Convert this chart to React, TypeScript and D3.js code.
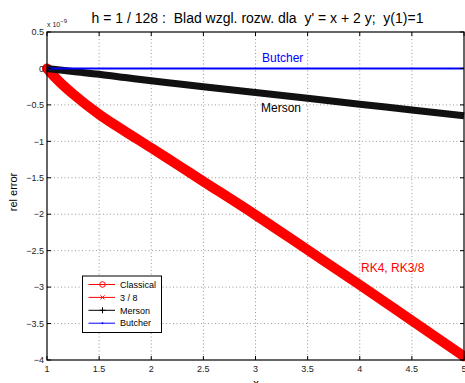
import React from "react";
import * as d3 from "d3";

const xs = [1, 1.0625, 1.125, 1.25, 1.5, 1.75, 2, 2.25, 2.5, 3, 3.5, 4, 4.5, 5];
const rk4 = [0, -0.1, -0.19, -0.35, -0.63, -0.865, -1.09, -1.32, -1.55, -2.01, -2.49, -2.97, -3.46, -3.95];
const merson = [0, -0.012, -0.022, -0.042, -0.08, -0.125, -0.17, -0.21, -0.25, -0.33, -0.41, -0.49, -0.57, -0.65];
const butcher = [0, 0, 0, 0, 0, 0, 0, 0, 0, 0, 0, 0, 0, 0];
const xTicks = [1, 1.5, 2, 2.5, 3, 3.5, 4, 4.5, 5];
const yTicks = [0.5, 0, -0.5, -1, -1.5, -2, -2.5, -3, -3.5, -4];
const legendNames = ["Classical", "3 / 8", "Merson", "Butcher"];
const legendColors = ["#ff0000", "#ff0000", "#000000", "#0000ff"];

const W = 465, H = 383;
const L = 47, R = 464, T = 32, B = 360;

function fmt(v: number) {
  const s = String(Math.abs(v));
  return v < 0 ? "\u2212" + s : s;
}

export default function App() {
  const x = d3.scaleLinear().domain([1, 5]).range([L, R]);
  const y = d3.scaleLinear().domain([-4, 0.5]).range([B, T]);
  const line = d3.line<number>().x((_, i) => x(xs[i])).y((d) => y(d)).curve(d3.curveMonotoneX);
  const font = "'Liberation Sans', Arial, Helvetica, sans-serif";

  const lgX = 82.5, lgY = 276, lgW = 79, lgH = 56.5;
  const rowY = (i: number) => 284.5 + i * 12.9;

  return (
    <svg width={W} height={H} style={{ position: "absolute", left: 0, top: 0, fontFamily: font }}>
      <rect x={0} y={0} width={W} height={H} fill="#fff" />
      {xTicks.slice(1, -1).map((t) => (
        <line key={"gx" + t} x1={x(t)} x2={x(t)} y1={T} y2={B} stroke="#999" strokeWidth={1} strokeDasharray="1,2.5" />
      ))}
      {yTicks.slice(1, -1).map((t) => (
        <line key={"gy" + t} x1={L} x2={R} y1={y(t)} y2={y(t)} stroke="#999" strokeWidth={1} strokeDasharray="1,2.5" />
      ))}
      <path d={line(rk4) || ""} fill="none" stroke="#ff0000" strokeWidth={10} strokeLinejoin="round" strokeLinecap="round" />
      <path d={line(merson) || ""} fill="none" stroke="#111" strokeWidth={7} strokeLinejoin="round" />
      <path d={line(butcher) || ""} fill="none" stroke="#0000ff" strokeWidth={2} />
      <rect x={L} y={T} width={R - L} height={B - T} fill="none" stroke="#000" strokeWidth={1.2} />
      {xTicks.map((t) => (
        <g key={"xt" + t}>
          <line x1={x(t)} x2={x(t)} y1={B} y2={B - 4} stroke="#000" />
          <line x1={x(t)} x2={x(t)} y1={T} y2={T + 4} stroke="#000" />
          <text x={x(t)} y={372} fontSize={9} textAnchor="middle" fill="#222">{t}</text>
        </g>
      ))}
      {yTicks.map((t) => (
        <g key={"yt" + t}>
          <line x1={L} x2={L + 4} y1={y(t)} y2={y(t)} stroke="#000" />
          <line x1={R} x2={R - 4} y1={y(t)} y2={y(t)} stroke="#000" />
          <text x={44} y={y(t) + 3.2} fontSize={9} textAnchor="end" fill="#222">{fmt(t)}</text>
        </g>
      ))}
      <text x={47} y={27} fontSize={7} fill="#222">x 10<tspan dy={-4} fontSize={6}>{"\u22129"}</tspan></text>
      <text x={(L + R) / 2 + 2} y={23} fontSize={14} textAnchor="middle" fill="#000" style={{ whiteSpace: "pre" }}>
        {"h = 1 / 128 :  Blad wzgl. rozw. dla  y' = x + 2 y;  y(1)=1"}
      </text>
      <text x={256} y={387} fontSize={11} textAnchor="middle" fill="#000">x</text>
      <text transform="translate(17,192) rotate(-90)" fontSize={11} textAnchor="middle" fill="#000">rel error</text>
      <text x={262} y={62} fontSize={12} fill="#0000ff">Butcher</text>
      <text x={261} y={112} fontSize={12} fill="#000">Merson</text>
      <text x={361} y={271.5} fontSize={12} fill="#ff0000">RK4, RK3/8</text>
      <rect x={lgX} y={lgY} width={lgW} height={lgH} fill="#fff" stroke="#000" strokeWidth={1} />
      {legendNames.map((n, i) => {
        const cy = rowY(i);
        const c = legendColors[i];
        const mx = 102.5;
        return (
          <g key={n}>
            <line x1={88.5} x2={115} y1={cy} y2={cy} stroke={c} strokeWidth={1} />
            {i === 0 && <circle cx={mx} cy={cy} r={2.8} fill="none" stroke={c} strokeWidth={1} />}
            {i === 1 && (
              <path d={`M${mx - 2},${cy - 2}L${mx + 2},${cy + 2}M${mx - 2},${cy + 2}L${mx + 2},${cy - 2}`} stroke={c} strokeWidth={1} />
            )}
            {i === 2 && (
              <path d={`M${mx},${cy - 3}L${mx},${cy + 3}M${mx - 3},${cy}L${mx + 3},${cy}`} stroke={c} strokeWidth={1} />
            )}
            {i === 3 && <circle cx={mx} cy={cy} r={1} fill={c} />}
            <text x={120} y={cy + 3.2} fontSize={9} fill="#000">{n}</text>
          </g>
        );
      })}
    </svg>
  );
}
